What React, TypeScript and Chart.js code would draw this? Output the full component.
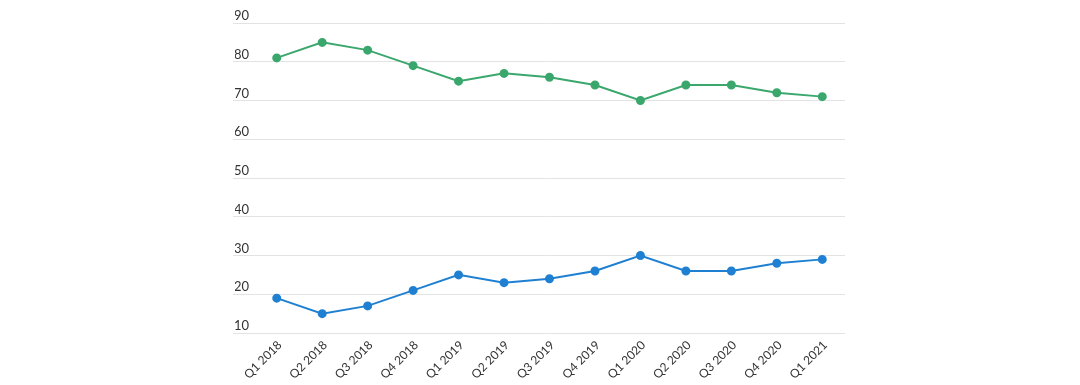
import React, { useEffect, useRef } from "react";
import { Chart, registerables } from "chart.js";

Chart.register(...registerables);

const categories = [
  "Q1 2018", "Q2 2018", "Q3 2018", "Q4 2018",
  "Q1 2019", "Q2 2019", "Q3 2019", "Q4 2019",
  "Q1 2020", "Q2 2020", "Q3 2020", "Q4 2020",
  "Q1 2021",
];
const greenSeries = [81, 85, 83, 79, 75, 77, 76, 74, 70, 74, 74, 72, 71];
const blueSeries = [19, 15, 17, 21, 25, 23, 24, 26, 30, 26, 26, 28, 29];
const yTicks = [10, 20, 30, 40, 50, 60, 70, 80, 90];

const GREEN = "#3aa76d";
const BLUE = "#1f80d2";

export default function App() {
  const ref = useRef<HTMLCanvasElement | null>(null);
  useEffect(() => {
    if (!ref.current) return;
    const chart = new Chart(ref.current, {
      type: "line",
      data: {
        labels: categories,
        datasets: [
          {
            data: greenSeries,
            borderColor: GREEN,
            backgroundColor: GREEN,
            pointBackgroundColor: GREEN,
            pointBorderColor: GREEN,
            borderWidth: 2,
            pointRadius: 3.5,
            tension: 0,
          },
          {
            data: blueSeries,
            borderColor: BLUE,
            backgroundColor: BLUE,
            pointBackgroundColor: BLUE,
            pointBorderColor: BLUE,
            borderWidth: 2,
            pointRadius: 3.5,
            tension: 0,
          },
        ],
      },
      options: {
        animation: false,
        responsive: false,
        maintainAspectRatio: false,
        layout: { padding: { left: 235, right: 235, top: 23, bottom: 5 } },
        plugins: { legend: { display: false }, tooltip: { enabled: false } },
        scales: {
          x: {
            offset: true,
            grid: { display: false, drawTicks: false },
            border: { display: false },
            ticks: {
              minRotation: 45,
              maxRotation: 45,
              padding: 5,
              labelOffset: 3,
              autoSkip: false,
              color: "#333",
              font: { family: "Lato", size: 12 },
            },
            afterFit: (s: any) => {
              s.height = 47;
            },
          },
          y: {
            min: 10,
            max: 90,
            afterBuildTicks: (s: any) => {
              s.ticks = yTicks.map((v) => ({ value: v }));
            },
            grid: { color: "#e3e3e3", lineWidth: 1, tickLength: 21, tickColor: "#e3e3e3" },
            border: { display: false },
            ticks: {
              padding: -16,
              labelOffset: -7,
              color: "#333",
              font: { family: "Lato", size: 13 },
            },
            afterFit: (s: any) => {
              s.width = 19;
            },
          },
        },
      },
    });
    return () => chart.destroy();
  }, []);
  return (
    <div style={{ position: "absolute", left: 0, top: 0, width: 1080, height: 385, background: "#fff" }}>
      <canvas ref={ref} width={1080} height={385} style={{ width: 1080, height: 385, display: "block" }} />
    </div>
  );
}
